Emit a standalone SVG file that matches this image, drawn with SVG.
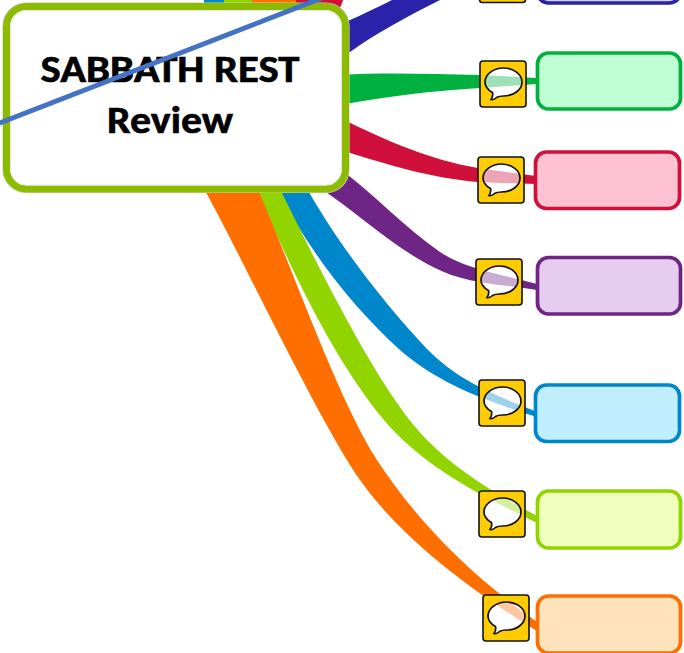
<svg xmlns="http://www.w3.org/2000/svg" width="684" height="653" viewBox="0 0 684 653">
<style>
.leaf{stroke-width:3.7}
.ico{fill:#ffcc00;stroke:#111;stroke-width:1.6}
.bub{fill:#fff}
.edge{fill:none;stroke:#111;stroke-width:1.7}
.show{opacity:.38}
.title{font-family:Carlito,Lato,'Open Sans',sans-serif;font-weight:700;font-size:37.500px;text-anchor:middle;stroke:#000;stroke-width:.6}
</style>
<defs>
<path id="bubble" d="M23.500 7C33.500 7 42 13.500 42 21C42 29 33.500 35 23.500 35C20 35 18 35.500 16.500 36.500C14.500 38.500 12.500 39 11 38.500C13 36 13 34 12.500 31.500C8 29 5 25.500 5 21C5 13.500 13.500 7 23.500 7Z"/>
<path id="b-indigo" d="M330 29C350 20 385 5 410 -10L460 -10C420 10 380 30 350 52L330 62Z" fill="#2a22a8"/>
<path id="b-green" d="M340 75C385 72 430 74 480 75L537 78L537 84C515 85 500 87 480 88C430 91 390 96 340 105Z" fill="#00b140"/>
<path id="b-red" d="M340 118C385 140 430 160 478 168C500 171 520 174 537 176L537 184C515 183 495 183 478 182C430 178 390 165 340 150Z" fill="#d0103a"/>
<path id="b-purple" d="M340 169C375 195 405 228 440 252C465 269 500 274 537 284L537 290C500 284 465 284 433 267C395 248 360 215 320 188Z" fill="#6e2585"/>
<path id="b-blue" d="M305 185C335 240 385 305 428 350C460 382 495 395 537 412L537 417C490 402 440 385 400 350C350 305 305 245 275 185Z" fill="#0086cb"/>
<path id="b-lime" d="M278 185C315 259 378 391 427 440C460 473 495 493 537 516L537 523C480 495 430 470 390 427C335 365 288 263 255 185Z" fill="#92d400"/>
<path id="b-orange" d="M256 185C290 262 338 400 377 460C416 520 470 575 537 622L537 631C470 590 400 537 360 480C318 420 237 247 203 187Z" fill="#ff6f00"/>
<clipPath id="c-green"><use href="#bubble" transform="translate(480 61)"/></clipPath>
<clipPath id="c-red"><use href="#bubble" transform="translate(478 157)"/></clipPath>
<clipPath id="c-purple"><use href="#bubble" transform="translate(476 259)"/></clipPath>
<clipPath id="c-blue"><use href="#bubble" transform="translate(479 380)"/></clipPath>
<clipPath id="c-lime"><use href="#bubble" transform="translate(479 491)"/></clipPath>
<clipPath id="c-orange"><use href="#bubble" transform="translate(483 595)"/></clipPath>
</defs>
<g id="connectors">
<rect x="204" y="-2" width="20" height="20" fill="#0086cb"/>
<rect x="224" y="-2" width="28" height="20" fill="#92d400"/>
<rect x="252" y="-2" width="44" height="20" fill="#ff6f00"/>
<path d="M296 -2H344L336 18H296Z" fill="#d0103a"/>
<use href="#b-indigo"/><use href="#b-green"/><use href="#b-red"/><use href="#b-purple"/><use href="#b-blue"/><use href="#b-lime"/><use href="#b-orange"/>
</g>
<g id="main-node">
<rect x="3" y="3" width="346" height="189.500" rx="23" fill="none" stroke="#c9d4b0" stroke-width="1.200"/>
<rect x="6.500" y="6.500" width="339" height="182.500" rx="20" fill="#fff" stroke="#8dbb00" stroke-width="7"/>
<rect x="10.500" y="10.500" width="331" height="174.500" rx="16" fill="none" stroke="#e6e8e0" stroke-width="1"/>
<text class="title" x="170" y="81.500" textLength="259" lengthAdjust="spacingAndGlyphs">SABBATH REST</text>
<text class="title" x="170" y="133" textLength="126" lengthAdjust="spacingAndGlyphs">Review</text>
</g>
<g id="icon-indigo"><rect class="ico" x="479.500" y="-44" width="46" height="46.500" rx="3"/></g>
<g id="node-indigo"><rect class="leaf" x="537.500" y="-54" width="143" height="57" rx="11" fill="#d5d2f5" stroke="#2a22a8"/></g>
<g id="icon-green"><rect class="ico" x="480" y="61" width="46" height="46" rx="3"/><use class="bub" href="#bubble" transform="translate(480 61)"/><g clip-path="url(#c-green)" class="show"><use href="#b-green"/></g><use class="edge" href="#bubble" transform="translate(480 61)"/></g>
<g id="node-green"><rect class="leaf" x="537.500" y="53" width="143" height="56" rx="11" fill="#bfffd3" stroke="#00b140"/></g>
<g id="icon-red"><rect class="ico" x="478" y="157" width="46" height="46" rx="3"/><use class="bub" href="#bubble" transform="translate(478 157)"/><g clip-path="url(#c-red)" class="show"><use href="#b-red"/></g><use class="edge" href="#bubble" transform="translate(478 157)"/></g>
<g id="node-red"><rect class="leaf" x="535.500" y="152" width="144" height="56.500" rx="11" fill="#ffc2d2" stroke="#d0103a"/></g>
<g id="icon-purple"><rect class="ico" x="476" y="259" width="46" height="46" rx="3"/><use class="bub" href="#bubble" transform="translate(476 259)"/><g clip-path="url(#c-purple)" class="show"><use href="#b-purple"/></g><use class="edge" href="#bubble" transform="translate(476 259)"/></g>
<g id="node-purple"><rect class="leaf" x="537.500" y="257.500" width="143" height="56.500" rx="11" fill="#e6ccef" stroke="#6e2585"/></g>
<g id="icon-blue"><rect class="ico" x="479" y="380" width="46" height="46" rx="3"/><use class="bub" href="#bubble" transform="translate(479 380)"/><g clip-path="url(#c-blue)" class="show"><use href="#b-blue"/></g><use class="edge" href="#bubble" transform="translate(479 380)"/></g>
<g id="node-blue"><rect class="leaf" x="535.500" y="385" width="144" height="56.500" rx="11" fill="#bfeeff" stroke="#0086cb"/></g>
<g id="icon-lime"><rect class="ico" x="479" y="491" width="46" height="46" rx="3"/><use class="bub" href="#bubble" transform="translate(479 491)"/><g clip-path="url(#c-lime)" class="show"><use href="#b-lime"/></g><use class="edge" href="#bubble" transform="translate(479 491)"/></g>
<g id="node-lime"><rect class="leaf" x="537.500" y="491" width="143" height="57" rx="11" fill="#f0ffbd" stroke="#92d400"/></g>
<g id="icon-orange"><rect class="ico" x="483" y="595" width="46" height="46" rx="3"/><use class="bub" href="#bubble" transform="translate(483 595)"/><g clip-path="url(#c-orange)" class="show"><use href="#b-orange"/></g><use class="edge" href="#bubble" transform="translate(483 595)"/></g>
<g id="node-orange"><rect class="leaf" x="537.500" y="596" width="143" height="57" rx="11" fill="#ffe3bd" stroke="#ff6f00"/></g>
<g id="overlay-line"><line x1="-3" y1="124" x2="322" y2="-2" stroke="#4472c4" stroke-width="5"/></g>
</svg>
